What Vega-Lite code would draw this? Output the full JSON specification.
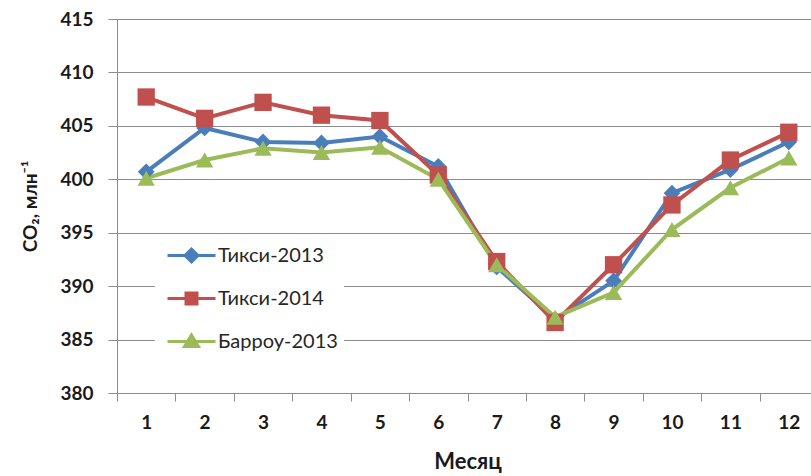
{
  "$schema": "https://vega.github.io/schema/vega-lite/v6.json",
  "width": 694,
  "height": 374,
  "autosize": {"type": "none"},
  "padding": {"left": 117, "top": 19, "right": 0, "bottom": 83},
  "background": "white",
  "config": {"view": {"stroke": null}},
  "data": {
    "values": [
      {"m": 1, "s": "Тикси-2013", "v": 400.7},
      {"m": 2, "s": "Тикси-2013", "v": 404.8},
      {"m": 3, "s": "Тикси-2013", "v": 403.5},
      {"m": 4, "s": "Тикси-2013", "v": 403.4},
      {"m": 5, "s": "Тикси-2013", "v": 404.0},
      {"m": 6, "s": "Тикси-2013", "v": 401.2},
      {"m": 7, "s": "Тикси-2013", "v": 391.8},
      {"m": 8, "s": "Тикси-2013", "v": 386.9},
      {"m": 9, "s": "Тикси-2013", "v": 390.5},
      {"m": 10, "s": "Тикси-2013", "v": 398.7},
      {"m": 11, "s": "Тикси-2013", "v": 400.9},
      {"m": 12, "s": "Тикси-2013", "v": 403.5},
      {"m": 1, "s": "Тикси-2014", "v": 407.7},
      {"m": 2, "s": "Тикси-2014", "v": 405.7},
      {"m": 3, "s": "Тикси-2014", "v": 407.2},
      {"m": 4, "s": "Тикси-2014", "v": 406.0},
      {"m": 5, "s": "Тикси-2014", "v": 405.5},
      {"m": 6, "s": "Тикси-2014", "v": 400.4},
      {"m": 7, "s": "Тикси-2014", "v": 392.3},
      {"m": 8, "s": "Тикси-2014", "v": 386.6},
      {"m": 9, "s": "Тикси-2014", "v": 392.0},
      {"m": 10, "s": "Тикси-2014", "v": 397.6},
      {"m": 11, "s": "Тикси-2014", "v": 401.8},
      {"m": 12, "s": "Тикси-2014", "v": 404.4},
      {"m": 1, "s": "Барроу-2013", "v": 400.1},
      {"m": 2, "s": "Барроу-2013", "v": 401.8},
      {"m": 3, "s": "Барроу-2013", "v": 402.9},
      {"m": 4, "s": "Барроу-2013", "v": 402.5},
      {"m": 5, "s": "Барроу-2013", "v": 403.0},
      {"m": 6, "s": "Барроу-2013", "v": 400.0},
      {"m": 7, "s": "Барроу-2013", "v": 392.0},
      {"m": 8, "s": "Барроу-2013", "v": 387.1},
      {"m": 9, "s": "Барроу-2013", "v": 389.4},
      {"m": 10, "s": "Барроу-2013", "v": 395.3},
      {"m": 11, "s": "Барроу-2013", "v": 399.2},
      {"m": 12, "s": "Барроу-2013", "v": 402.0}
    ]
  },
  "encoding": {
    "x": {
      "field": "m",
      "type": "ordinal",
      "bandPosition": 0.5,
      "scale": {"type": "band", "range": [0, 701], "paddingInner": 0, "paddingOuter": 0},
      "axis": {
        "title": "Месяц",
        "labelAngle": 0,
        "tickBand": "extent",
        "domainColor": "#8c8c8c",
        "tickColor": "#8c8c8c",
        "tickSize": 8,
        "labelFont": "Lato",
        "labelFontWeight": "bold",
        "labelFontSize": 19,
        "labelColor": "#1a1a1a",
        "labelPadding": 12,
        "titleFont": "Lato",
        "titleFontWeight": "bold",
        "titleFontSize": 22,
        "titleColor": "#1a1a1a",
        "titlePadding": 19
      }
    },
    "y": {
      "field": "v",
      "type": "quantitative",
      "scale": {"domain": [380, 415], "nice": false, "zero": false},
      "axis": {
        "title": "CO₂, млн⁻¹",
        "values": [380, 385, 390, 395, 400, 405, 410, 415],
        "grid": true,
        "gridColor": "#8c8c8c",
        "gridWidth": 1,
        "domainColor": "#8c8c8c",
        "tickColor": "#8c8c8c",
        "tickSize": 9,
        "labelFont": "Lato",
        "labelFontWeight": "bold",
        "labelFontSize": 19,
        "labelColor": "#1a1a1a",
        "labelPadding": 15,
        "titleFont": "Lato",
        "titleFontWeight": "bold",
        "titleFontSize": 19,
        "titleColor": "#1a1a1a",
        "titlePadding": 19
      }
    },
    "color": {
      "field": "s",
      "type": "nominal",
      "sort": ["Тикси-2013", "Тикси-2014", "Барроу-2013"],
      "scale": {
        "domain": ["Тикси-2013", "Тикси-2014", "Барроу-2013"],
        "range": ["#4a7ebb", "#c0504d", "#9bbb59"]
      },
      "legend": {
        "orient": "none",
        "legendX": 38,
        "legendY": 219,
        "title": null,
        "fillColor": "white",
        "padding": 6,
        "rowPadding": 19,
        "labelFont": "Lato",
        "labelFontSize": 20,
        "labelColor": "#262626",
        "labelOffset": 34,
        "symbolSize": 400,
        "encode": {
          "symbols": {
            "update": {
              "shape": {"signal": "datum.value === 'Тикси-2013' ? 'M-0.5,0H4.3M1.9,-0.65L2.55,0L1.9,0.65L1.25,0Z' : datum.value === 'Тикси-2014' ? 'M-0.5,0H4.3M1.35,-0.55H2.45V0.55H1.35Z' : 'M-0.5,0H4.3M1.9,-0.65L2.6,0.5H1.2Z'"},
              "fill": {"signal": "scale('color', datum.value)"},
              "stroke": {"signal": "scale('color', datum.value)"},
              "strokeWidth": {"value": 3},
              "opacity": {"value": 1},
              "size": {"value": 400}
            }
          }
        }
      }
    }
  },
  "layer": [
    {
      "mark": {"type": "line", "strokeWidth": 4},
      "encoding": {}
    },
    {
      "transform": [{"filter": "datum.s === 'Тикси-2013'"}],
      "mark": {"type": "point", "filled": true, "opacity": 1, "size": 280, "shape": "diamond"},
      "encoding": {}
    },
    {
      "transform": [{"filter": "datum.s === 'Тикси-2014'"}],
      "mark": {"type": "point", "filled": true, "opacity": 1, "size": 300, "shape": "square"},
      "encoding": {}
    },
    {
      "transform": [{"filter": "datum.s === 'Барроу-2013'"}],
      "mark": {"type": "point", "filled": true, "opacity": 1, "size": 300, "shape": "triangle-up"},
      "encoding": {}
    }
  ]
}
